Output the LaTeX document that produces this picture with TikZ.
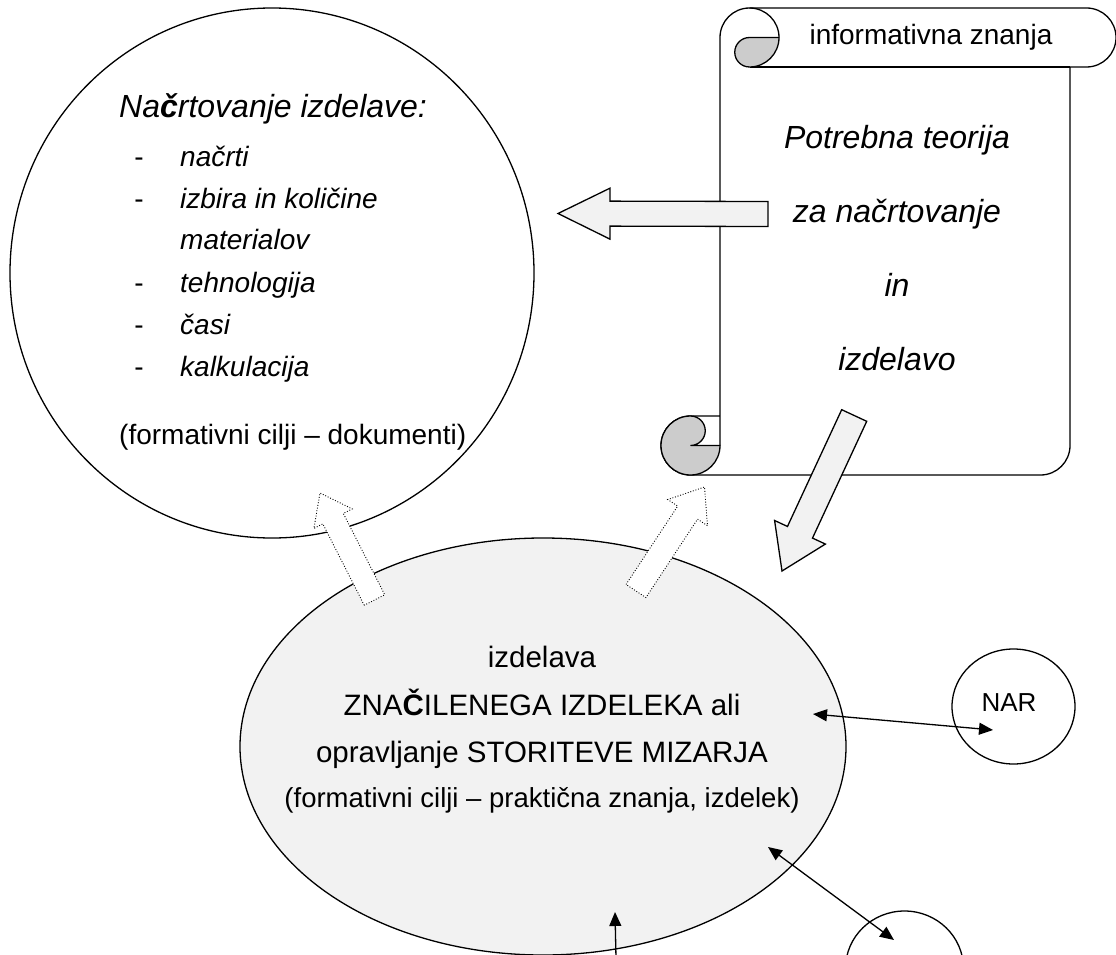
\documentclass[tikz,border=0pt]{standalone}
\usepackage{fontspec}
\setmainfont{Liberation Sans}
\usetikzlibrary{shapes.geometric,arrows.meta,calc,positioning}

\definecolor{svetla}{HTML}{F2F2F2}
\definecolor{siva}{HTML}{CCCCCC}

% block arrow: [style]{tail}{tip}{half shaft}{half head}{head length}
\newcommand{\blokpuscica}[6][]{%
  \coordinate (hb) at ($(#3)!#6!(#2)$);
  \draw[#1] ($(#2)!#4!90:(#3)$) -- ($(hb)!#4!90:(#3)$) -- ($(hb)!#5!90:(#3)$) -- (#3)
    -- ($(hb)!#5!-90:(#3)$) -- ($(hb)!#4!-90:(#3)$) -- ($(#2)!#4!-90:(#3)$) -- cycle;}

\tikzset{
  rob/.style={draw, line width=1.3pt},
  krog/.style={ellipse, rob, inner sep=0pt},
  blok/.style={rob, fill=svetla},
  pikcasto/.style={draw, line width=0.9pt, dash pattern=on 0.9pt off 1.8pt, fill=white},
  tip/.tip={Triangle[length=14pt,width=12pt]},
  puscica/.style={line width=1.3pt},
  tekst/.style={anchor=base, inner sep=0pt, font=\fontsize{28}{32}\selectfont},
  poudarek/.style={tekst, font=\itshape\fontsize{32}{36}\selectfont},
  elipsa/.style={tekst, font=\fontsize{29.5}{34}\selectfont},
}

\begin{document}
\begin{tikzpicture}[x=1pt, y=-1pt]
        \useasboundingbox (0,0) rectangle (1116,955);
        \clip (0,0) rectangle (1116,955);
        
        % scroll
        \draw[rob, fill=white] (720,445.5) -- (720,37.5) arc[start angle=180, end angle=270, radius=29.5]
          -- (1086.5,8) arc[start angle=-90, end angle=90, radius=29.5] -- (1070,67) -- (1070,445.5)
          arc[start angle=0, end angle=90, radius=29.5] -- (690.5,475)
          arc[start angle=90, end angle=270, radius=29.5] -- (720,416) -- cycle;
        \draw[rob] (1070,67) -- (749.5,67);
        \draw[rob] (749.5,8) arc[start angle=270, end angle=360, radius=29.5];
        \draw[rob, fill=siva] (749.5,37.5) -- (779,37.5) arc[start angle=0, end angle=90, radius=29.5]
          arc[start angle=90, end angle=270, radius=14.75] -- cycle;
        \draw[rob, fill=siva] (690.5,445.5) -- (720,445.5) arc[start angle=0, end angle=270, radius=29.5]
          arc[start angle=-90, end angle=90, radius=14.75] -- cycle;
        
        \node[tekst] (info) at (931,45) {informativna znanja};
        \node[poudarek] (teo1) at (897,148) {Potrebna teorija};
        \node[poudarek, below=74pt of teo1.base, anchor=base] (teo2) {za načrtovanje};
        \node[poudarek, below=74pt of teo2.base, anchor=base] (teo3) {in};
        \node[poudarek, below=74pt of teo3.base, anchor=base] (teo4) {izdelavo};
        
        % circles
        \node[krog, minimum width=524pt, minimum height=530pt] (nacrt) at (272,273) {};
        \node[krog, fill=svetla, minimum width=606pt, minimum height=417pt] (izd) at (543,746.5) {};
        \node[krog, minimum width=123pt, minimum height=115pt] (nar) at (1013.5,706.5) {};
        \node[krog, minimum width=118pt, minimum height=115pt] (ext) at (904.5,968.5) {};
        
        \node[poudarek, anchor=base west] (naslov) at (119,118) {Na\textbf{č}rtovanje izdelave:};
        \foreach \yy/\txt [count=\i] in {166/načrti, 208/izbira in količine, 292/tehnologija, 334/časi, 376/kalkulacija} {
          \node[tekst] (crta\i) at (139,\yy) {-};
          \node[tekst, anchor=base west, font=\itshape\fontsize{28}{32}\selectfont] (alin\i) at (180,\yy) {\txt};
        }
        \node[tekst, anchor=base west, font=\itshape\fontsize{28}{32}\selectfont] (mat) at (180,249) {materialov};
        \node[tekst, anchor=base west] (cilji1) at (119,444) {(formativni cilji -- dokumenti)};
        
        \node[elipsa] (iz1) at (542,667) {izdelava};
        \node[elipsa, below=48pt of iz1.base, anchor=base] (iz2) {ZNA\textbf{Č}ILENEGA IZDELEKA ali};
        \node[elipsa, below=47pt of iz2.base, anchor=base] (iz3) {opravljanje STORITEVE MIZARJA};
        \node[tekst, below=45pt of iz3.base, anchor=base, font=\fontsize{27.5}{32}\selectfont] (cilji2) {(formativni cilji -- praktična znanja, izdelek)};
        \node[tekst, font=\fontsize{26}{30}\selectfont] (nartxt) at (1009,711) {NAR};
        
        % block arrows
        \coordinate (levoA) at (768,214);
        \coordinate (levoB) at (558,213.5);
        \coordinate (dolA) at (854.2,415.5);
        \coordinate (dolB) at (782,571);
        \coordinate (gorA) at (374.5,600);
        \coordinate (gorB) at (320,493);
        \coordinate (desnoA) at (636,591);
        \coordinate (desnoB) at (704.5,487);
        \blokpuscica[blok]{levoA}{levoB}{12.5pt}{25.5pt}{52pt}
        \blokpuscica[blok]{dolA}{dolB}{13.8pt}{28pt}{42.7pt}
        \blokpuscica[pikcasto]{gorA}{gorB}{11.5pt}{21.5pt}{28.8pt}
        \blokpuscica[pikcasto]{desnoA}{desnoB}{11.9pt}{23.8pt}{30.7pt}
        
        % links
        \coordinate (narA) at (813,714);
        \coordinate (narB) at (993,730);
        \coordinate (extA) at (768,847);
        \coordinate (extB) at (894,940);
        \coordinate (spodA) at (616,958);
        \coordinate (spodB) at (615,912);
        \draw[puscica, tip-tip] (narA) -- (narB); %
        \draw[puscica, tip-tip] (extA) -- (extB); %
        \draw[puscica, -tip] (spodA) -- (spodB); %
        
\end{tikzpicture}
\end{document}
